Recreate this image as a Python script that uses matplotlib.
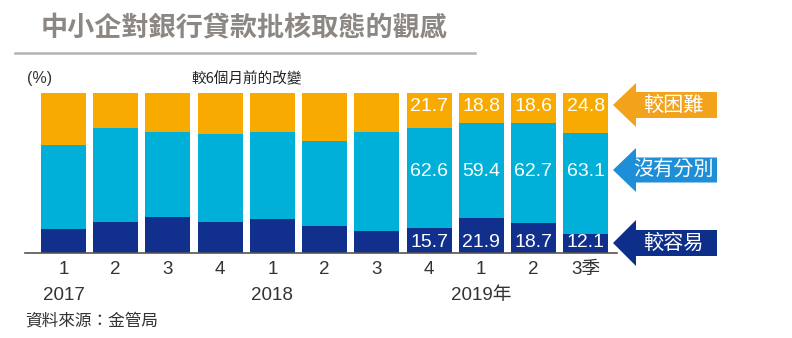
import matplotlib
matplotlib.use('Agg')
import matplotlib.pyplot as plt
from matplotlib.patches import Polygon
import numpy as np

plt.rcParams['font.family'] = ['Noto Sans CJK TC', 'DejaVu Sans']

# 季度 / 年份
quarters = ['1', '2', '3', '4', '1', '2', '3', '4', '1', '2', '3季']
years = ['2017', '2018', '2019年']
year_pos = [0, 4, 8]

# 較6個月前的改變 (%)
easier = [15.3, 19.4, 22.4, 19.4, 21.0, 16.6, 13.8, 15.7, 21.9, 18.7, 12.1]
same = [52.3, 58.6, 53.3, 55.1, 54.9, 53.7, 62.1, 62.6, 59.4, 62.7, 63.1]
harder = [32.4, 22.0, 24.3, 25.5, 24.1, 29.7, 24.1, 21.7, 18.8, 18.6, 24.8]
labelled_from = 7  # 只有最後四季有數字

NAVY = '#11308e'
CYAN = '#00b0d8'
ORANGE = '#f8aa00'
NUM_FONT = ['Liberation Sans', 'Noto Sans CJK TC']

W, H = 792, 338
fig = plt.figure(figsize=(W / 100, H / 100), dpi=100)


def fx(px):
    return px / W


def fy(py):
    return 1 - py / H


ax = fig.add_axes([fx(25), fy(253), fx(617) - fx(25), (253 - 93.3) / H])

x = np.arange(len(quarters))
bw = 0.862
easier = np.array(easier)
same = np.array(same)
harder = np.array(harder)
ax.bar(x, easier, bw, color=NAVY)
ax.bar(x, same, bw, bottom=easier, color=CYAN)
ax.bar(x, harder, bw, bottom=easier + same, color=ORANGE)

ax.set_xlim(-0.7375, 10.6)
ax.set_ylim(0, 100)

# 數字固定在三行
rows = [6.3, 51.3, 92.0]
for i in range(labelled_from, len(x)):
    for val, ry in zip([easier[i], same[i], harder[i]], rows):
        ax.text(x[i], ry, f'{val:.1f}', color='white', ha='center', va='center',
                fontsize=14, family=NUM_FONT)

for s in ['top', 'left', 'right']:
    ax.spines[s].set_visible(False)
ax.spines['bottom'].set_color('#555555')
ax.spines['bottom'].set_linewidth(1.2)
ax.set_yticks([])
ax.set_xticks(x)
ax.set_xticklabels(quarters, fontsize=13.5, color='#333333')
for lab in ax.get_xticklabels():
    lab.set_family(NUM_FONT)
ax.tick_params(axis='x', length=0, pad=6)

for yp, yl in zip(year_pos, years):
    ax.text(yp, -0.269, yl, transform=ax.get_xaxis_transform(), ha='center', va='center',
            fontsize=13.5, color='#333333', family=NUM_FONT)

# 標題
fig.text(fx(244), fy(28), '中小企對銀行貸款批核取態的觀感', ha='center', va='center',
         fontsize=19.5, fontweight='bold', color='#8c8782')
fig.add_artist(plt.Line2D([fx(15), fx(475)], [fy(53), fy(53)], color='#b4b4b4', lw=1.8))
fig.text(fx(40), fy(79), '(%)', ha='center', va='center', fontsize=11.5, color='#333333',
         family=NUM_FONT)
fig.text(fx(247), fy(79), '較6個月前的改變', ha='center', va='center', fontsize=10.5,
         color='#222222')

# 右邊箭咀
arrows = [('較困難', 105, '#f3a31b', 22, 13),
          ('沒有分別', 170, '#1e8fd6', 22, 12.5),
          ('較容易', 243, '#0d2f8a', 23, 13)]
tip, base, right = 613, 636, 717
for name, cy, col, hh, bh in arrows:
    pts = [(tip, cy), (base, cy - hh), (base, cy - bh), (right, cy - bh),
           (right, cy + bh), (base, cy + bh), (base, cy + hh)]
    fig.add_artist(Polygon([(fx(a), fy(b)) for a, b in pts], closed=True,
                           transform=fig.transFigure, color=col, lw=0))
    fig.text(fx(673), fy(cy), name, ha='center', va='center', fontsize=14.5, color='white')

fig.text(fx(25), fy(321), '資料來源：金管局', ha='left', va='center', fontsize=12,
         color='#333333')

fig.savefig('out.png', dpi=100)
